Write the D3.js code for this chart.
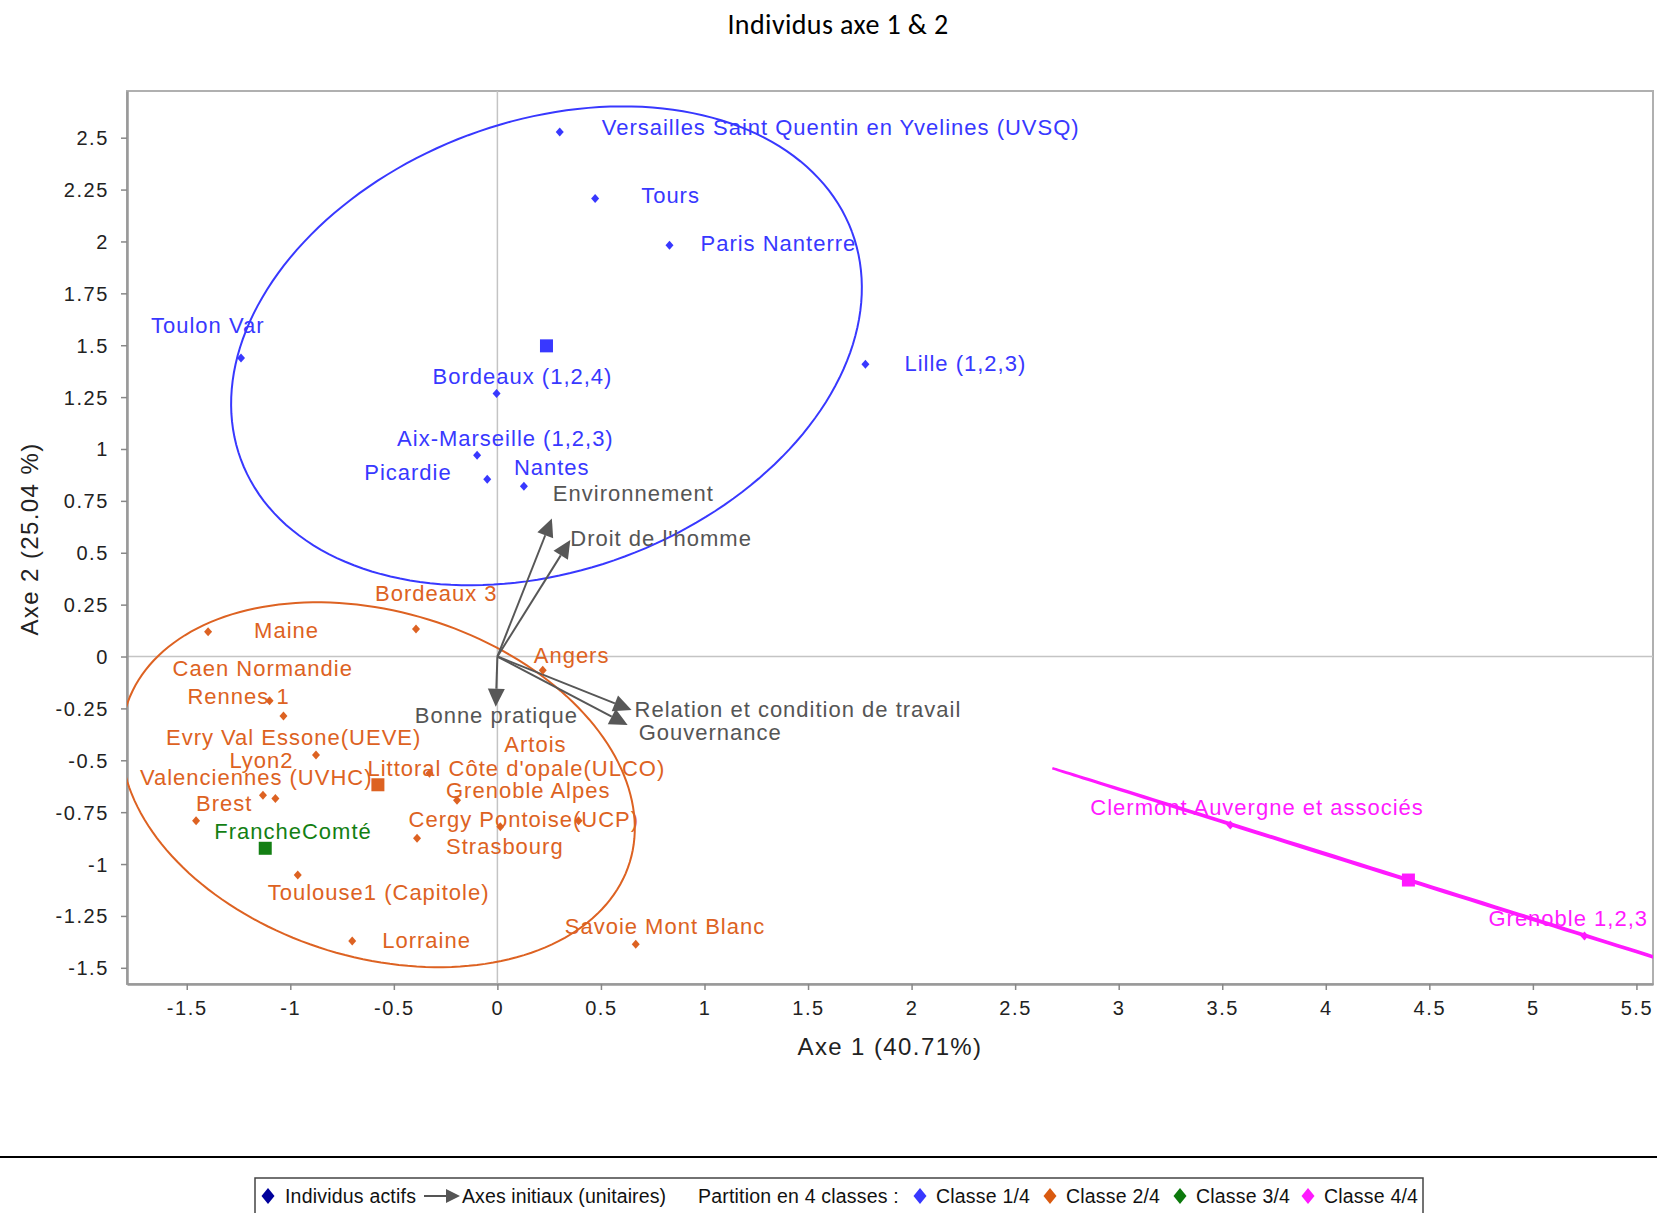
<!DOCTYPE html>
<html><head><meta charset="utf-8">
<script src="https://cdn.jsdelivr.net/npm/d3@7"></script>
<style>
body{margin:0;background:#fff}
svg{display:block}
text{font-family:"Liberation Sans",Arial,sans-serif}
</style>
</head><body><svg id="chart" width="1657" height="1213"></svg>
<script>
// ---------------- data ----------------
const individuals = [
  "Versailles Saint Quentin en Yvelines (UVSQ)","Tours","Paris Nanterre","Toulon Var","Lille (1,2,3)",
  "Bordeaux (1,2,4)","Aix-Marseille (1,2,3)","Picardie","Nantes",
  "Bordeaux 3","Maine","Angers","Caen Normandie","Rennes 1","Evry Val Essone(UEVE)","Lyon2",
  "Valenciennes (UVHC)","Littoral Côte d'opale(ULCO)","Grenoble Alpes","Artois","Cergy Pontoise(UCP)",
  "Strasbourg","Brest","Toulouse1 (Capitole)","Lorraine","Savoie Mont Blanc",
  "FrancheComté",
  "Clermont Auvergne et associés","Grenoble 1,2,3"
];
const axe1 = [0.301,0.472,0.831,-1.238,1.777,-0.004,-0.098,-0.049,0.128,
  -0.393,-1.397,0.219,-1.100,-1.033,-0.876,-1.072,-1.132,-0.328,-0.195,0.014,0.392,-0.388,-1.455,-0.964,-0.701,0.668,
  -1.121,
  3.539,5.249];
const axe2 = [2.527,2.207,1.982,1.439,1.408,1.267,0.970,0.854,0.820,
  0.132,0.119,-0.066,-0.213,-0.287,-0.475,-0.684,-0.668,-0.563,-0.692,-0.820,-0.791,-0.876,-0.791,-1.053,-1.371,-1.387,
  -0.924,
  -0.812,-1.347];
const classOf = [0,0,0,0,0,0,0,0,0, 1,1,1,1,1,1,1,1,1,1,1,1,1,1,1,1,1, 2, 3,3];
const classNames = ["Classe 1/4","Classe 2/4","Classe 3/4","Classe 4/4"];
const centroidAxe1 = [0.237,-0.577,-1.121,4.399];
const centroidAxe2 = [1.497,-0.618,-0.924,-1.077];
const ellipseMajor = [1.574,1.272,0,1.801];
const ellipseMinor = [1.083,0.833,0,0.004];
const ellipseAngleDeg = [20.4,-17,0,-17.4];
const variables = ["Environnement","Droit de l'homme","Bonne pratique","Relation et condition de travail","Gouvernance"];
const varAxe1 = [0.263,0.352,-0.008,0.648,0.629];
const varAxe2 = [0.665,0.561,-0.242,-0.258,-0.330];
const xTicks = [-1.5,-1,-0.5,0,0.5,1,1.5,2,2.5,3,3.5,4,4.5,5,5.5];
const xTickLabels = ["-1.5","-1","-0.5","0","0.5","1","1.5","2","2.5","3","3.5","4","4.5","5","5.5"];
const yTicks = [-1.5,-1.25,-1,-0.75,-0.5,-0.25,0,0.25,0.5,0.75,1,1.25,1.5,1.75,2,2.25,2.5];
const yTickLabels = ["-1.5","-1.25","-1","-0.75","-0.5","-0.25","0","0.25","0.5","0.75","1","1.25","1.5","1.75","2","2.25","2.5"];
const xDomain = [-1.7885,5.580];
const yDomain = [-1.578,2.725];

// ---------------- layout / style ----------------
const labelOffsets = [[42,-5],[46,-3],[31,-2],[-90,-33],[39,-1],[-64,-17],[-80,-17],[-123,-7],[-10,-19],
  [-41,-36],[46,-2],[-9,-15],[-97,-32],[-96,-20],[-150,-18],[-46,-38],[-123,-18],[-62,-5],[-11,-10],[4,-82],[-170,-1],[29,8],[0,-17],[-30,17],[30,-1],[-71,-18],
  [-51,-17],
  [-140,-18],[-96,-18]];
const varLabelOffsets = [[1,-25],[0,-2],[-81,9],[3,-1],[11,7]];
const classColors = ["#3838ff","#dd6222","#137f13","#ff1aff"];
const legendColors = ["#3838ff","#d95a10","#0d7a0d","#ff1aff"];
const W = 1657, H = 1213;
const plot = {left:127, right:1653, top:91, bottom:984};

const svg = d3.select("#chart");
const x = d3.scaleLinear().domain(xDomain).range([plot.left, plot.right]);
const y = d3.scaleLinear().domain(yDomain).range([plot.bottom, plot.top]);

// title
svg.append("text").attr("x",838).attr("y",34).attr("text-anchor","middle")
  .style("font-family","Carlito, Lato, sans-serif").style("font-size","28px").style("letter-spacing","0.4px").attr("fill","#000")
  .text("Individus axe 1 & 2");

// clip
svg.append("clipPath").attr("id","clip").append("rect")
  .attr("x",plot.left).attr("y",plot.top).attr("width",plot.right-plot.left).attr("height",plot.bottom-plot.top);

// frame
svg.append("rect").attr("x",plot.left).attr("y",plot.top).attr("width",plot.right-plot.left).attr("height",plot.bottom-plot.top)
  .attr("fill","#fff").attr("stroke","#b0b0b0").attr("stroke-width",2);

// zero lines
svg.append("line").attr("x1",x(0)).attr("x2",x(0)).attr("y1",plot.top).attr("y2",plot.bottom).attr("stroke","#c4c4c4").attr("stroke-width",1.5);
svg.append("line").attr("x1",plot.left).attr("x2",plot.right).attr("y1",y(0)).attr("y2",y(0)).attr("stroke","#c4c4c4").attr("stroke-width",1.5);

// axes
const xAxis = svg.append("g").attr("transform",`translate(0,${plot.bottom})`)
  .call(d3.axisBottom(x).tickValues(xTicks).tickFormat((d,i)=>xTickLabels[i]).tickSize(6).tickSizeOuter(0).tickPadding(11));
const yAxis = svg.append("g").attr("transform",`translate(${plot.left},0)`)
  .call(d3.axisLeft(y).tickValues(yTicks).tickFormat((d,i)=>yTickLabels[i]).tickSize(6).tickSizeOuter(0).tickPadding(12));
[xAxis,yAxis].forEach(g=>{
  g.select(".domain").attr("stroke","#999").attr("stroke-width",2.5);
  g.selectAll(".tick line").attr("stroke","#888").attr("stroke-width",1.5);
  g.selectAll(".tick text").attr("fill","#222").style("font-family","Liberation Sans, Arial, sans-serif")
    .style("font-size","20px").style("letter-spacing","1.6px");
});
yAxis.selectAll(".tick text").attr("dy","0.35em");

// axis titles
svg.append("text").attr("x",890).attr("y",1055).attr("text-anchor","middle")
  .style("font-size","24px").style("letter-spacing","1.4px").attr("fill","#222").text("Axe 1 (40.71%)");
svg.append("text").attr("transform","translate(38,539) rotate(-90)").attr("text-anchor","middle")
  .style("font-size","24px").style("letter-spacing","1.4px").attr("fill","#222").text("Axe 2 (25.04 %)");

const gp = svg.append("g").attr("clip-path","url(#clip)");

// ellipses
const line = d3.line().x(d=>x(d[0])).y(d=>y(d[1]));
for(let k=0;k<4;k++){
  if(ellipseMajor[k]===0) continue;
  const th = ellipseAngleDeg[k]*Math.PI/180, a=ellipseMajor[k], b=ellipseMinor[k];
  const pts = d3.range(0,361,2).map(t=>{
    const r=t*Math.PI/180;
    return [centroidAxe1[k]+a*Math.cos(r)*Math.cos(th)-b*Math.sin(r)*Math.sin(th),
            centroidAxe2[k]+a*Math.cos(r)*Math.sin(th)+b*Math.sin(r)*Math.cos(th)];
  });
  gp.append("path").attr("d",line(pts)).attr("fill","none").attr("stroke",classColors[k])
    .attr("stroke-width",k===3?2.4:2);
}

// variable arrows
const arrowColor = "#575757";
variables.forEach((v,i)=>{
  const x0=x(0),y0=y(0),x1=x(varAxe1[i]),y1=y(varAxe2[i]);
  const ang=Math.atan2(y1-y0,x1-x0), L=18, Wd=8.5;
  const bx=x1-L*Math.cos(ang), by=y1-L*Math.sin(ang);
  gp.append("line").attr("x1",x0).attr("y1",y0).attr("x2",bx).attr("y2",by).attr("stroke",arrowColor).attr("stroke-width",2);
  const p=[[x1,y1],[bx+Wd*Math.sin(ang),by-Wd*Math.cos(ang)],[bx-Wd*Math.sin(ang),by+Wd*Math.cos(ang)]];
  gp.append("path").attr("d","M"+p.map(q=>q.join(",")).join("L")+"Z").attr("fill",arrowColor);
  gp.append("text").attr("x",x1+varLabelOffsets[i][0]).attr("y",y1+varLabelOffsets[i][1]).attr("dy","0.35em")
    .style("font-size","22px").style("letter-spacing","1px").attr("fill","#555").text(v);
});

// individuals (small rhombus markers)
const rhombus = (hw,hh)=>`M0,${-hh}L${hw},0L0,${hh}L${-hw},0Z`;
individuals.forEach((n,i)=>{
  const c=classColors[classOf[i]];
  gp.append("path").attr("d",rhombus(4,4.5)).attr("transform",`translate(${x(axe1[i])},${y(axe2[i])})`).attr("fill",c);
});
// centroids
for(let k=0;k<4;k++){
  gp.append("rect").attr("x",x(centroidAxe1[k])-6.5).attr("y",y(centroidAxe2[k])-6.5).attr("width",13).attr("height",13)
    .attr("fill",classColors[k]);
}
individuals.forEach((n,i)=>{
  gp.append("text").attr("x",x(axe1[i])+labelOffsets[i][0]).attr("y",y(axe2[i])+labelOffsets[i][1]).attr("dy","0.35em")
    .style("font-size","22px").style("letter-spacing","1px").attr("fill",classColors[classOf[i]]).text(n);
});

// separator and legend
svg.append("line").attr("x1",0).attr("x2",W).attr("y1",1157).attr("y2",1157).attr("stroke","#000").attr("stroke-width",2);
svg.append("rect").attr("x",255).attr("y",1178).attr("width",1168).attr("height",50).attr("fill","none").attr("stroke","#444").attr("stroke-width",1.5);
const ly = 1196;
const legFont = "19.5px";
svg.append("path").attr("d",rhombus(6.5,8)).attr("transform",`translate(268,${ly})`).attr("fill","#00009c");
svg.append("text").attr("x",285).attr("y",ly).attr("dy","0.35em").style("font-size",legFont).style("letter-spacing","0.2px").attr("fill","#111").text("Individus actifs");
svg.append("line").attr("x1",424).attr("x2",447).attr("y1",ly).attr("y2",ly).attr("stroke","#555").attr("stroke-width",2);
svg.append("path").attr("d",`M446,${ly-7}L460,${ly}L446,${ly+7}Z`).attr("fill","#555");
svg.append("text").attr("x",462).attr("y",ly).attr("dy","0.35em").style("font-size",legFont).style("letter-spacing","0.1px").attr("fill","#111").text("Axes initiaux (unitaires)");
svg.append("text").attr("x",698).attr("y",ly).attr("dy","0.35em").style("font-size",legFont).style("letter-spacing","0.2px").attr("fill","#111").text("Partition en 4 classes :");
const legX = [920,1050,1180,1308];
classNames.forEach((cn,k)=>{
  svg.append("path").attr("d",rhombus(6.5,8)).attr("transform",`translate(${legX[k]},${ly})`).attr("fill",legendColors[k]);
  svg.append("text").attr("x",legX[k]+16).attr("y",ly).attr("dy","0.35em").style("font-size",legFont).style("letter-spacing","0.2px").attr("fill","#111").text(cn);
});
</script>
</body></html>
